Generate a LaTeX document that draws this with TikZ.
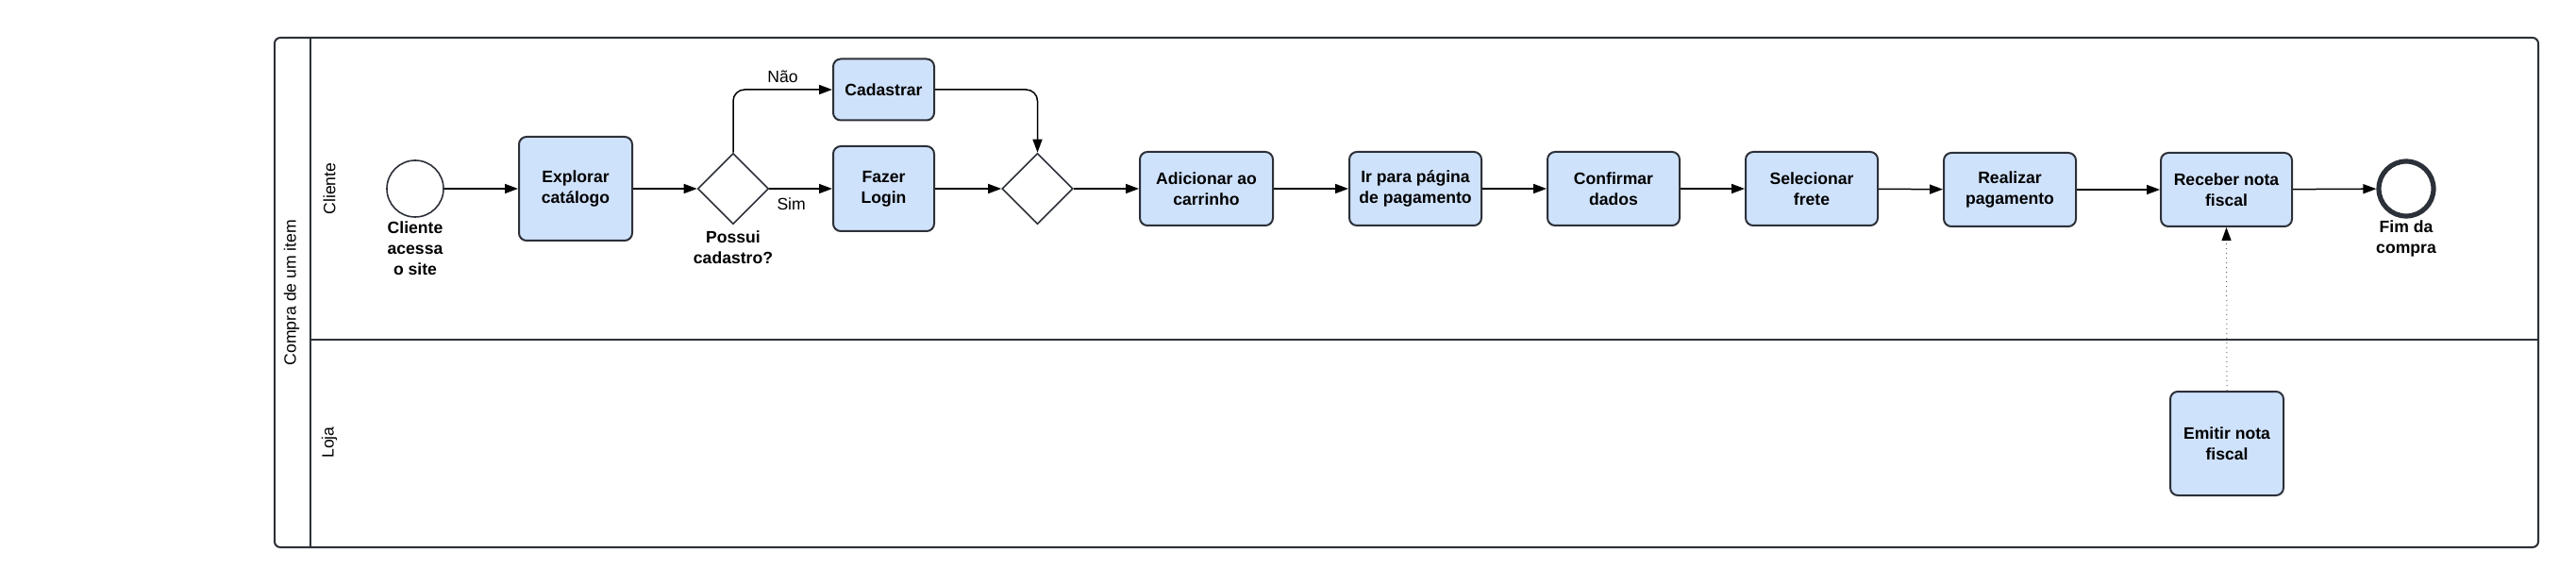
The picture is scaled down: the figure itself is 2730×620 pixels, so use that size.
\documentclass[tikz,border=0pt]{standalone}
\usepackage{fontspec}
\setmainfont{Liberation Sans}
\usetikzlibrary{positioning,arrows.meta,shapes.geometric}
\definecolor{taskfill}{RGB}{207,226,252}
\definecolor{linegray}{RGB}{44,48,56}

\begin{document}
\begin{tikzpicture}[
  x=0.5pt, y=-0.5pt,
  font=\fontsize{8.8}{10.9}\selectfont,
  task/.style={draw=linegray, fill=taskfill, line width=1pt, rounded corners=4pt, align=center, inner sep=2pt, font=\fontsize{8.8}{10.9}\selectfont\bfseries},
  gate/.style={draw=linegray, diamond, line width=0.8pt, minimum width=37.5pt, minimum height=37.5pt, inner sep=0pt},
  startev/.style={draw=linegray, circle, line width=0.8pt, minimum size=30pt, inner sep=0pt},
  endev/.style={draw=linegray, circle, line width=2.6pt, minimum size=29pt, inner sep=0pt},
  evlabel/.style={align=center, inner sep=1pt, font=\fontsize{8.8}{10.9}\selectfont\bfseries},
  flow/.style={-{Triangle[length=7pt,width=5pt]}, line width=0.75pt},
  msgflow/.style={-{Triangle[length=7pt,width=5pt,color=black]}, draw=gray!80!black, dotted, line width=0.5pt},
  pool/.style={draw=linegray, line width=1pt}
]
  \useasboundingbox (0,0) rectangle (2730,620);

  % pool and lanes
  \draw[pool, rounded corners=3pt] (291,40) rectangle (2690,580);
  \draw[pool] (329,40) -- (329,580);
  \draw[pool] (329,360) -- (2690,360);
  \node[rotate=90] (lblpool) at (309,310) {Compra de um item};
  \node[rotate=90] (lblcliente) at (349,200) {Cliente};
  \node[rotate=90] (lblloja) at (349,469) {Loja};

  % lane Cliente
  \node[startev] (start) at (440,200) {};
  \node[evlabel, below=1pt of start] (startlbl) {Cliente\\acessa\\o site};
  \node[task, minimum width=60pt, minimum height=55pt] (explorar) at (610,200) {Explorar\\catálogo};
  \node[gate] (cadastro) at (777,200) {};
  \node[evlabel, below=2pt of cadastro] (cadastrolbl) {Possui\\cadastro?};
  \node[task, minimum width=53.5pt, minimum height=32.5pt] (cadastrar) at (936.5,95) {Cadastrar};
  \node[task, minimum width=53.5pt, minimum height=45pt] (login) at (936.5,200) {Fazer\\Login};
  \node[gate] (juncao) at (1099.5,200) {};
  \node[task, minimum width=70.5pt, minimum height=39pt] (carrinho) at (1278.5,200) {Adicionar ao\\carrinho};
  \node[task, minimum width=70pt, minimum height=39pt] (pagina) at (1500,200) {Ir para página\\de pagamento};
  \node[task, minimum width=70pt, minimum height=39pt] (dados) at (1710,200) {Confirmar\\dados};
  \node[task, minimum width=70pt, minimum height=39pt] (frete) at (1920,200) {Selecionar\\frete};
  \node[task, minimum width=70pt, minimum height=39pt] (pagar) at (2130,201) {Realizar\\pagamento};
  \node[task, minimum width=69.5pt, minimum height=39pt] (receber) at (2359.5,201) {Receber nota\\fiscal};
  \node[endev] (fim) at (2550,200) {};
  \node[evlabel, below=0pt of fim] (fimlbl) {Fim da\\compra};

  % lane Loja
  \node[task, minimum width=60pt, minimum height=55pt] (emitir) at (2360,470) {Emitir nota\\fiscal};

  % flows
  \draw[flow] (start) -- (explorar);
  \draw[flow] (explorar) -- (cadastro);
  \draw[flow, rounded corners=6pt] (cadastro.north) |- node[pos=0.75, above=0pt] (naolbl) {Não} (cadastrar.west);
  \draw[flow] (cadastro.east) -- node[pos=0.35, below=1pt] (simlbl) {Sim} (login.west);
  \draw[flow, rounded corners=6pt] (cadastrar.east) -| (juncao.north);
  \draw[flow] (login) -- (juncao);
  \draw[flow] (juncao) -- (carrinho);
  \draw[flow] (carrinho) -- (pagina);
  \draw[flow] (pagina) -- (dados);
  \draw[flow] (dados) -- (frete);
  \draw[flow] (frete) -- (pagar);
  \draw[flow] (pagar) -- (receber);
  \draw[flow] (receber) -- (fim);
  \draw[msgflow] (emitir.north) -- (receber.south);
\end{tikzpicture}
\end{document}
